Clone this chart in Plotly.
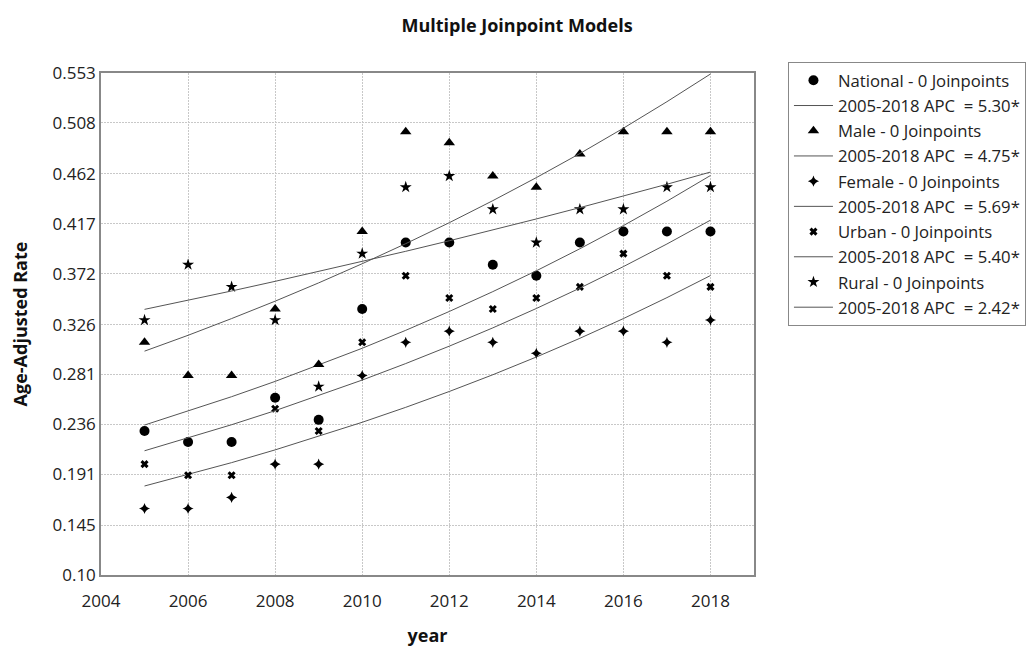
import plotly.graph_objects as go

years = [2005, 2006, 2007, 2008, 2009, 2010, 2011, 2012, 2013, 2014, 2015, 2016, 2017, 2018]

national = [0.23, 0.22, 0.22, 0.26, 0.24, 0.34, 0.40, 0.40, 0.38, 0.37, 0.40, 0.41, 0.41, 0.41]
male = [0.31, 0.28, 0.28, 0.34, 0.29, 0.41, 0.50, 0.49, 0.46, 0.45, 0.48, 0.50, 0.50, 0.50]
female = [0.16, 0.16, 0.17, 0.20, 0.20, 0.28, 0.31, 0.32, 0.31, 0.30, 0.32, 0.32, 0.31, 0.33]
urban = [0.20, 0.19, 0.19, 0.25, 0.23, 0.31, 0.37, 0.35, 0.34, 0.35, 0.36, 0.39, 0.37, 0.36]
rural = [0.33, 0.38, 0.36, 0.33, 0.27, 0.39, 0.45, 0.46, 0.43, 0.40, 0.43, 0.43, 0.45, 0.45]

national_fit = [0.2353, 0.2478, 0.2609, 0.2747, 0.2893, 0.3046, 0.3208, 0.3378, 0.3557, 0.3745, 0.3944, 0.4153, 0.4373, 0.4605]
male_fit = [0.3020, 0.3163, 0.3314, 0.3471, 0.3636, 0.3809, 0.3990, 0.4179, 0.4378, 0.4586, 0.4803, 0.5032, 0.5271, 0.5521]
female_fit = [0.1803, 0.1906, 0.2014, 0.2129, 0.2250, 0.2378, 0.2513, 0.2656, 0.2807, 0.2967, 0.3136, 0.3314, 0.3503, 0.3702]
urban_fit = [0.2121, 0.2236, 0.2356, 0.2483, 0.2618, 0.2759, 0.2908, 0.3065, 0.3230, 0.3405, 0.3589, 0.3783, 0.3987, 0.4202]
rural_fit = [0.3397, 0.3479, 0.3563, 0.3650, 0.3738, 0.3828, 0.3921, 0.4016, 0.4113, 0.4213, 0.4315, 0.4419, 0.4526, 0.4636]

series_names = ["National - 0 Joinpoints", "Male - 0 Joinpoints", "Female - 0 Joinpoints",
                "Urban - 0 Joinpoints", "Rural - 0 Joinpoints"]
fit_names = ["2005-2018 APC  = 5.30*", "2005-2018 APC  = 4.75*", "2005-2018 APC  = 5.69*",
             "2005-2018 APC  = 5.40*", "2005-2018 APC  = 2.42*"]

y_ticks = [0.10, 0.145, 0.191, 0.236, 0.281, 0.326, 0.372, 0.417, 0.462, 0.508, 0.553]
y_tick_text = ["0.10", "0.145", "0.191", "0.236", "0.281", "0.326", "0.372", "0.417", "0.462", "0.508", "0.553"]
x_ticks = [2004, 2006, 2008, 2010, 2012, 2014, 2016, 2018]

observed = [national, male, female, urban, rural]
fitted = [national_fit, male_fit, female_fit, urban_fit, rural_fit]
symbols = ["circle", "triangle-up", "star-diamond", "x-thin-open", "star"]
sizes = [10, 10, 8, 6, 9]

fig = go.Figure()
for i in range(5):
    marker = dict(symbol=symbols[i], size=sizes[i], color="black")
    if symbols[i] == "x-thin-open":
        marker = dict(symbol="x-thin-open", size=sizes[i], color="black", line=dict(width=3, color="black"))
    fig.add_trace(go.Scatter(
        x=years, y=observed[i], mode="markers", name=series_names[i],
        marker=marker, legendgroup=f"g{2*i}", cliponaxis=False))
    fig.add_trace(go.Scatter(
        x=years, y=fitted[i], mode="lines", name=fit_names[i],
        line=dict(color="#555555", width=1), legendgroup=f"g{2*i+1}"))

fig.update_layout(
    width=1034, height=648,
    paper_bgcolor="white", plot_bgcolor="white",
    margin=dict(l=93, r=288, t=65, b=81, autoexpand=False),
    font=dict(family="Open Sans, Noto Sans, sans-serif", color="#222222"),
    title=dict(text="<b>Multiple Joinpoint Models</b>", x=0.5 - 8 / 1034, xanchor="center",
               y=0.972, yanchor="middle", font=dict(size=18, color="#111111")),
    xaxis=dict(range=[2004, 2019], tickvals=x_ticks, ticks="", showline=True,
               linecolor="#888888", linewidth=1.5, mirror=True,
               showgrid=True, gridcolor="#c8c8c8", gridwidth=1, griddash="2px,1px", zeroline=False,
               tickfont=dict(size=17, color="#222222"), ticklabelstandoff=10,
               title=dict(text="<b>year</b>", font=dict(size=18, color="#111111"), standoff=18)),
    yaxis=dict(range=[0.10, 0.553], tickvals=y_ticks, ticktext=y_tick_text, ticks="",
               showline=True, linecolor="#888888", linewidth=1.5, mirror=True,
               showgrid=True, gridcolor="#c8c8c8", gridwidth=1, griddash="2px,1px", zeroline=False,
               tickfont=dict(size=17, color="#222222"),
               title=dict(text="<b>Age-Adjusted Rate</b>", font=dict(size=18, color="#111111"), standoff=30)),
    legend=dict(x=1.052, xanchor="left", y=1.022, yanchor="top",
                bordercolor="#888888", borderwidth=1, bgcolor="white",
                font=dict(size=16.7, color="#222222"),
                traceorder="grouped", tracegroupgap=0.5, itemwidth=39),
    showlegend=True,
)

fig.write_html("out.html")
